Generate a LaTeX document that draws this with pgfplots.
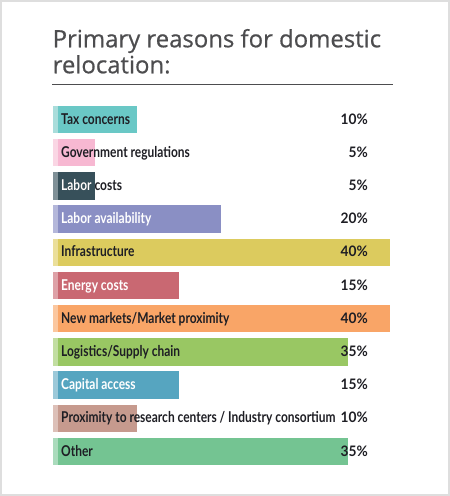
\documentclass[border=0pt]{standalone}
\usepackage{pgfplots}
\pgfplotsset{compat=1.18}
\usepackage{fontspec}
\setmainfont{Lato}
\newfontfamily\titlefont[FakeBold=0.6]{Open Sans}
\newfontfamily\labfont[FakeStretch=0.8]{Lato}
\newfontfamily\pctfont[FakeStretch=0.95]{Lato}
\definecolor{titlegray}{HTML}{4D4D4F}
\definecolor{txt}{HTML}{1E1E24}
\definecolor{cA}{HTML}{6AC8C6}\definecolor{lA}{HTML}{A9DDDB}
\definecolor{cB}{HTML}{F7B8D2}\definecolor{lB}{HTML}{FAD6E4}
\definecolor{cC}{HTML}{37505A}\definecolor{lC}{HTML}{7F9097}
\definecolor{cD}{HTML}{8A8FC4}\definecolor{lD}{HTML}{B4B7DA}
\definecolor{cE}{HTML}{DCCB5E}\definecolor{lE}{HTML}{EBDF9A}
\definecolor{cF}{HTML}{C96872}\definecolor{lF}{HTML}{DEA1A7}
\definecolor{cG}{HTML}{F9A567}\definecolor{lG}{HTML}{FBC79F}
\definecolor{cH}{HTML}{99C763}\definecolor{lH}{HTML}{C2DEA1}
\definecolor{cI}{HTML}{56A5C0}\definecolor{lI}{HTML}{9CC9D9}
\definecolor{cJ}{HTML}{C69A8E}\definecolor{lJ}{HTML}{DDC0B8}
\definecolor{cK}{HTML}{74C492}\definecolor{lK}{HTML}{AADBBC}
\begin{document}
\begin{tikzpicture}[
  lab/.style={anchor=base west, inner sep=0pt, xshift=8.3bp, yshift=-4.5bp, font=\labfont\bfseries\fontsize{15}{17}\selectfont, text=txt},
  pct/.style={anchor=base east, inner sep=0pt, yshift=-4.5bp, font=\pctfont\bfseries\fontsize{14.5}{17}\selectfont, text=txt},
]
\begin{scope}[x=1bp,y=-1bp]
\path[use as bounding box] (0,0) rectangle (450,496);
\draw[line width=2bp, black!13] (1,1) rectangle (449,495);
\node[anchor=base west, inner sep=0pt, text=titlegray, font=\titlefont\fontsize{24}{26}\selectfont] at (52.5,47.3) {Primary reasons for domestic};
\node[anchor=base west, inner sep=0pt, text=titlegray, font=\titlefont\fontsize{24}{26}\selectfont] at (52.5,73.3) {relocation:};
\draw[titlegray, line width=1bp] (52,85) -- (393,85);
\end{scope}
\begin{axis}[
  at={(52.7bp,-102.9bp)}, anchor=north west,
  scale only axis, width=337.3bp, height=365.2bp,
  hide axis, clip=false,
  xmin=0, xmax=40, ymin=-0.5, ymax=10.5, y dir=reverse,
  xbar, bar width=27.5bp, bar shift=0pt,
  every axis plot/.append style={draw=none},
]
\addplot[fill=cA] coordinates {(10,0)};
\addplot[fill=cB] coordinates {(5,1)};
\addplot[fill=cC] coordinates {(5,2)};
\addplot[fill=cD] coordinates {(20,3)};
\addplot[fill=cE] coordinates {(40,4)};
\addplot[fill=cF] coordinates {(15,5)};
\addplot[fill=cG] coordinates {(40,6)};
\addplot[fill=cH] coordinates {(35,7)};
\addplot[fill=cI] coordinates {(15,8)};
\addplot[fill=cJ] coordinates {(10,9)};
\addplot[fill=cK] coordinates {(35,10)};
% lighter left strips
\addplot[fill=lA] coordinates {(0.6,0)};
\addplot[fill=lB] coordinates {(0.6,1)};
\addplot[fill=lC] coordinates {(0.6,2)};
\addplot[fill=lD] coordinates {(0.6,3)};
\addplot[fill=lE] coordinates {(0.6,4)};
\addplot[fill=lF] coordinates {(0.6,5)};
\addplot[fill=lG] coordinates {(0.6,6)};
\addplot[fill=lH] coordinates {(0.6,7)};
\addplot[fill=lI] coordinates {(0.6,8)};
\addplot[fill=lJ] coordinates {(0.6,9)};
\addplot[fill=lK] coordinates {(0.6,10)};
\node[lab] at (axis cs:0,0) {Tax concerns};
\node[lab] at (axis cs:0,1) {Government regulations};
\node[lab] at (axis cs:0,2) {Labor costs};
\node[lab, text=white] at (axis cs:0,3) {Labor availability};
\node[lab] at (axis cs:0,4) {Infrastructure};
\node[lab, text=white] at (axis cs:0,5) {Energy costs};
\node[lab] at (axis cs:0,6) {New markets/Market proximity};
\node[lab] at (axis cs:0,7) {Logistics/Supply chain};
\node[lab, text=white] at (axis cs:0,8) {Capital access};
\node[lab] at (axis cs:0,9) {Proximity to research centers / Industry consortium};
\node[lab] at (axis cs:0,10) {Other};
\node[pct] at (axis cs:37.4,0) {10\%};
\node[pct] at (axis cs:37.4,1) {5\%};
\node[pct] at (axis cs:37.4,2) {5\%};
\node[pct] at (axis cs:37.4,3) {20\%};
\node[pct] at (axis cs:37.4,4) {40\%};
\node[pct] at (axis cs:37.4,5) {15\%};
\node[pct] at (axis cs:37.4,6) {40\%};
\node[pct] at (axis cs:37.4,7) {35\%};
\node[pct] at (axis cs:37.4,8) {15\%};
\node[pct] at (axis cs:37.4,9) {10\%};
\node[pct] at (axis cs:37.4,10) {35\%};
\coordinate (lcA) at (axis cs:0.6,1.58);
\coordinate (lcB) at (axis cs:5,2.42);
\coordinate (lcL) at (axis cs:0,2);
\end{axis}
\begin{scope}
\clip (lcA) rectangle (lcB);
\node[lab, text=white] at (lcL) {Labor costs};
\end{scope}
\end{tikzpicture}
\end{document}
